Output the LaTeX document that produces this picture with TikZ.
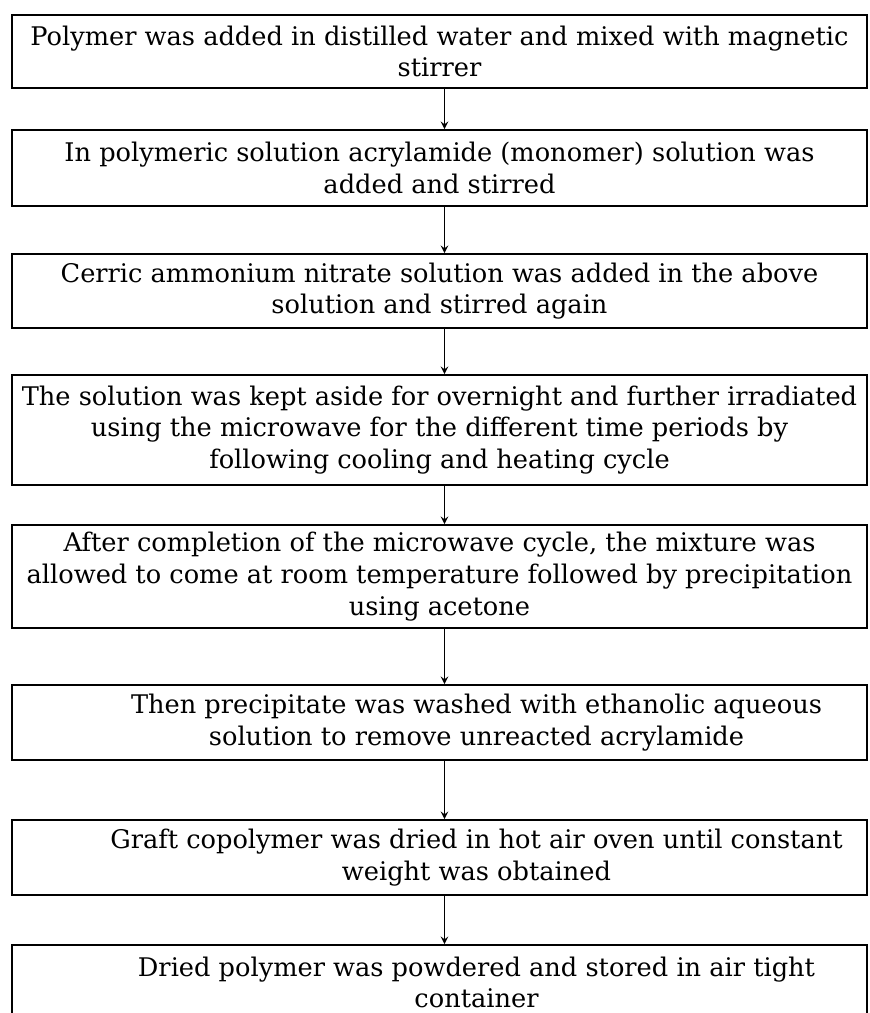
\documentclass[tikz,border=0pt]{standalone}
\usepackage{fontspec}
\setmainfont{DejaVu Serif}

\begin{document}
\begin{tikzpicture}[x=0.02cm, y=-0.02cm,
  stepbox/.style={draw, line width=1pt, minimum width=17.1cm, inner sep=0pt},
  steptext/.style={align=center, font=\fontsize{14.6}{18}\selectfont},
  flow/.style={->, >=stealth, line width=0.9pt}]
  \useasboundingbox (0,0) rectangle (869,1013);

  % Boxes
  \node[stepbox, minimum height=1.46cm] (s1) at (439.5,51.5) {};
  \node[stepbox, minimum height=1.52cm] (s2) at (439.5,168) {};
  \node[stepbox, minimum height=1.48cm] (s3) at (439.5,291) {};
  \node[stepbox, minimum height=2.2cm] (s4) at (439.5,430) {};
  \node[stepbox, minimum height=2.06cm] (s5) at (439.5,576.5) {};
  \node[stepbox, minimum height=1.5cm] (s6) at (439.5,722.5) {};
  \node[stepbox, minimum height=1.5cm] (s7) at (439.5,857.5) {};
  \node[stepbox, minimum height=1.5cm] (s8) at (439.5,982.5) {};

  % Texts
  \node[steptext] (t1) at (s1) {Polymer was added in distilled water and mixed with magnetic\\ stirrer};
  \node[steptext] (t2) at (s2) {In polymeric solution acrylamide (monomer) solution was\\ added and stirred};
  \node[steptext] (t3) at (s3) {Cerric ammonium nitrate solution was added in the above\\ solution and stirred again};
  \node[steptext] (t4) at (s4) {The solution was kept aside for overnight and further irradiated\\ using the microwave for the different time periods by\\ following cooling and heating cycle};
  \node[steptext] (t5) at (s5) {After completion of the microwave cycle, the mixture was\\ allowed to come at room temperature followed by precipitation\\ using acetone};
  \node[steptext] (t6) at ([xshift=0.74cm]s6.center) {Then precipitate was washed with ethanolic aqueous\\ solution to remove unreacted acrylamide};
  \node[steptext] (t7) at ([xshift=0.74cm]s7.center) {Graft copolymer was dried in hot air oven until constant\\ weight was obtained};
  \node[steptext] (t8) at ([xshift=0.74cm]s8.center) {Dried polymer was powdered and stored in air tight\\ container};

  % Arrows
  \draw[flow] ([xshift=0.1cm]s1.south) -- ([xshift=0.1cm]s2.north);
  \draw[flow] ([xshift=0.1cm]s2.south) -- ([xshift=0.1cm]s3.north);
  \draw[flow] ([xshift=0.1cm]s3.south) -- ([xshift=0.1cm]s4.north);
  \draw[flow] ([xshift=0.1cm]s4.south) -- ([xshift=0.1cm]s5.north);
  \draw[flow] ([xshift=0.1cm]s5.south) -- ([xshift=0.1cm]s6.north);
  \draw[flow] ([xshift=0.1cm]s6.south) -- ([xshift=0.1cm]s7.north);
  \draw[flow] ([xshift=0.1cm]s7.south) -- ([xshift=0.1cm]s8.north);
\end{tikzpicture}
\end{document}
